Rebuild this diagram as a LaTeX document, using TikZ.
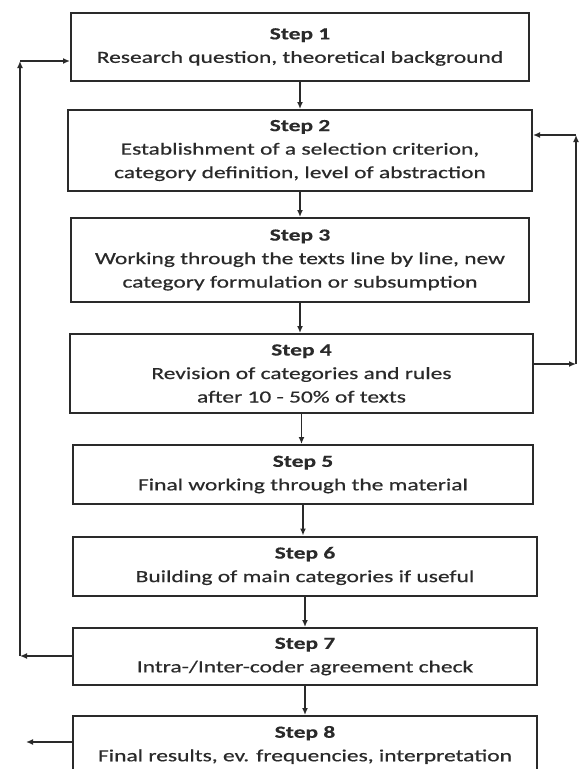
\documentclass[tikz,border=0pt]{standalone}
\usepackage{fontspec}
\setmainfont{Carlito}[FakeStretch=1.38, UprightFeatures={FakeBold=0.6}, BoldFeatures={FakeBold=0.4}]
\usetikzlibrary{arrows.meta}
\definecolor{ink}{HTML}{2A2A2A}
\tikzset{
  stepbox/.style={draw=ink, line width=2pt, rectangle, inner sep=0pt, align=center,
    text=ink, font=\fontsize{17}{23.5}\selectfont},
  conn/.style={draw=ink, line width=1.5pt, -{Latex[length=7pt,width=6pt]}},
  plain/.style={draw=ink, line width=1.5pt}
}
\begin{document}
\begin{tikzpicture}[x=1pt,y=-1pt]
\useasboundingbox (0,0) rectangle (582,769);
\clip (0,0) rectangle (582,769);
\node[stepbox, minimum width=458pt, minimum height=68pt] (s1) at (300,47)
  {\textbf{Step 1}\\Research question, theoretical background};
\node[stepbox, minimum width=464pt, minimum height=81pt] (s2) at (300,150.5)
  {\textbf{Step 2}\\Establishment of a selection criterion,\\category definition, level of abstraction};
\node[stepbox, minimum width=458pt, minimum height=84pt] (s3) at (300,260)
  {\textbf{Step 3}\\Working through the texts line by line, new\\category formulation or subsumption};
\node[stepbox, minimum width=463pt, minimum height=79pt] (s4) at (301.5,373.5)
  {\textbf{Step 4}\\Revision of categories and rules\\after 10 - 50\% of texts};
\node[stepbox, minimum width=460pt, minimum height=59pt] (s5) at (303,474.5)
  {\textbf{Step 5}\\Final working through the material};
\node[stepbox, minimum width=464pt, minimum height=59pt] (s6) at (305,566)
  {\textbf{Step 6}\\Building of main categories if useful};
\node[stepbox, minimum width=464pt, minimum height=57pt] (s7) at (305,656.5)
  {\textbf{Step 7}\\Intra-/Inter-coder agreement check};
\node[stepbox, minimum width=464pt, minimum height=58pt] (s8) at (305,745)
  {\textbf{Step 8}\\Final results, ev. frequencies, interpretation};
% main flow
\draw[conn] (s1.south) -- (s1.south |- s2.north);
\draw[conn] (s2.south) -- (s2.south |- s3.north);
\draw[conn] (s3.south) -- (s3.south |- s4.north);
\draw[conn] (s4.south) -- (s4.south |- s5.north);
\draw[conn] (s5.south) -- (s5.south |- s6.north);
\draw[conn] (s6.south) -- (s6.south |- s7.north);
\draw[conn] (s7.south) -- (s7.south |- s8.north);
% right feedback loop
\coordinate (rb) at (576,364);
\coordinate (rt) at (576,135);
\draw[conn] (s4.east |- rb) -- (rb);
\draw[conn] (rb) -- (rt);
\draw[conn] (rt) -- (s2.east |- rt);
% left feedback loop
\coordinate (lb) at (20,656);
\coordinate (lt) at (20,61);
\draw[conn] (s7.west |- lb) -- (lb);
\draw[conn] (lb) -- (lt);
\draw[conn] (lt) -- (s1.west |- lt);
% output arrow
\coordinate (out) at (26,742);
\draw[conn] (s8.west |- out) -- (out);
\end{tikzpicture}
\end{document}
